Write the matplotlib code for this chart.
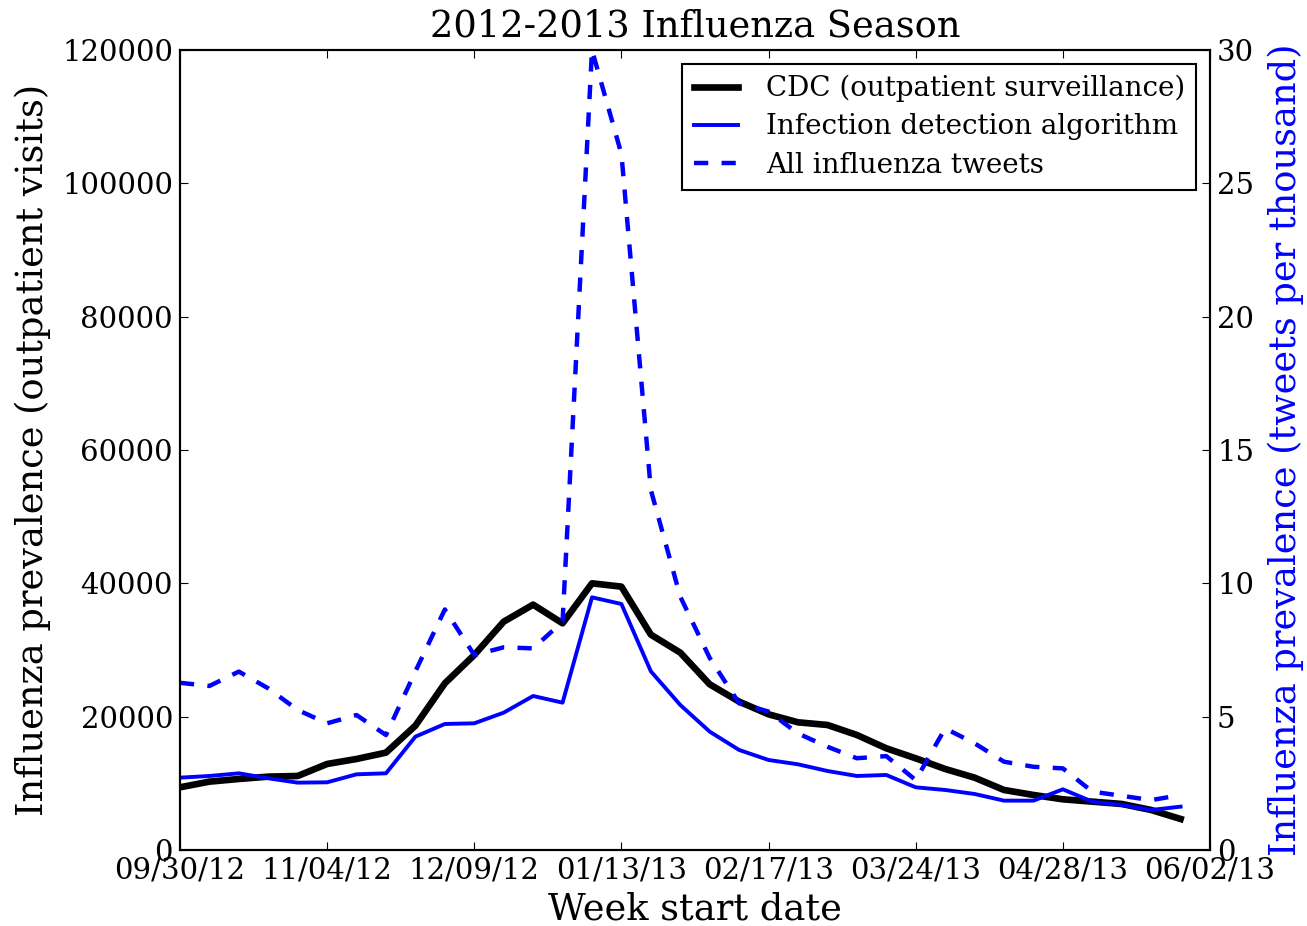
import numpy as np
import pandas as pd
import matplotlib
matplotlib.use('Agg')
import matplotlib.pyplot as plt
import matplotlib.dates as mdates

# weekly data, 09/30/12 .. 05/26/13
weeks = pd.date_range('2012-09-30', periods=35, freq='7D')

cdc = [9400, 10250, 10650, 11000, 11100, 12900, 13650, 14600, 18650, 25000,
       29250, 34250, 36800, 34000, 40000, 39500, 32300, 29600, 24850, 22250,
       20350, 19150, 18750, 17250, 15250, 13750, 12150, 10850, 9000, 8250,
       7600, 7250, 6900, 6000, 4650]

algorithm = [10850, 11100, 11500, 10750, 10100, 10150, 11350, 11500, 17000, 18900,
             19000, 20600, 23100, 22100, 37900, 36900, 26800, 21750, 17750, 15000,
             13500, 12850, 11850, 11100, 11250, 9400, 9000, 8400, 7400, 7400,
             9100, 7250, 6750, 6000, 6500]

tweets = [6.27, 6.15, 6.69, 6.06, 5.25, 4.75, 5.06, 4.31, 6.7, 9.02,
          7.31, 7.6, 7.56, 8.56, 30.0, 26.1, 13.5, 9.5, 7.2, 5.5,
          5.19, 4.37, 3.87, 3.44, 3.52, 2.62, 4.56, 4.0, 3.31, 3.12,
          3.06, 2.19, 2.03, 1.87, 2.06]

tick_dates = pd.date_range('2012-09-30', '2013-06-02', freq='35D')

plt.rcParams['font.family'] = 'serif'
plt.rcParams['font.serif'] = ['DejaVu Serif']
plt.rcParams['xtick.direction'] = 'in'
plt.rcParams['ytick.direction'] = 'in'
plt.rcParams['xtick.major.size'] = 6
plt.rcParams['ytick.major.size'] = 6
plt.rcParams['axes.linewidth'] = 1.5

fig = plt.figure(figsize=(13.07, 9.26), dpi=100)
ax = fig.add_axes([0.1377, 0.0821, 0.7881, 0.8639])

l1, = ax.plot(weeks, cdc, color='black', lw=4.8, label='CDC (outpatient surveillance)')
l2, = ax.plot(weeks, algorithm, color='blue', lw=2.8, label='Infection detection algorithm')
ax.set_ylim(0, 120000)
ax.set_xlim(pd.Timestamp('2012-09-30'), pd.Timestamp('2013-06-02'))
ax.set_xticks(tick_dates)
ax.xaxis.set_major_formatter(mdates.DateFormatter('%m/%d/%y'))
ax.set_yticks(np.arange(0, 120001, 20000))
ax.tick_params(labelsize=21, top=True, pad=5)
ax.set_xlabel('Week start date', fontsize=26.5, labelpad=5)
ax.set_ylabel('Influenza prevalence (outpatient visits)', fontsize=26.5, labelpad=8)
ax.set_title('2012-2013 Influenza Season', fontsize=26.5, pad=10)

ax2 = ax.twinx()
l3, = ax2.plot(weeks, tweets, color='blue', lw=3.2, ls=(0, (3.2, 3.0)),
               label='All influenza tweets')
ax2.set_ylim(0, 30)
ax2.set_yticks(np.arange(0, 31, 5))
ax2.tick_params(labelsize=21, pad=5)
ax2.set_ylabel('Influenza prevalence (tweets per thousand)', fontsize=26.5,
               color='blue', labelpad=10)

leg = ax2.legend(handles=[l1, l2, l3], loc='upper right', fontsize=20,
                 fancybox=False, framealpha=1, edgecolor='black',
                 borderaxespad=0.5, handlelength=1.6, handletextpad=1.0,
                 borderpad=0.4, labelspacing=0.4)
leg.get_frame().set_linewidth(1.5)

fig.savefig('out.png', dpi=100)
plt.close(fig)
